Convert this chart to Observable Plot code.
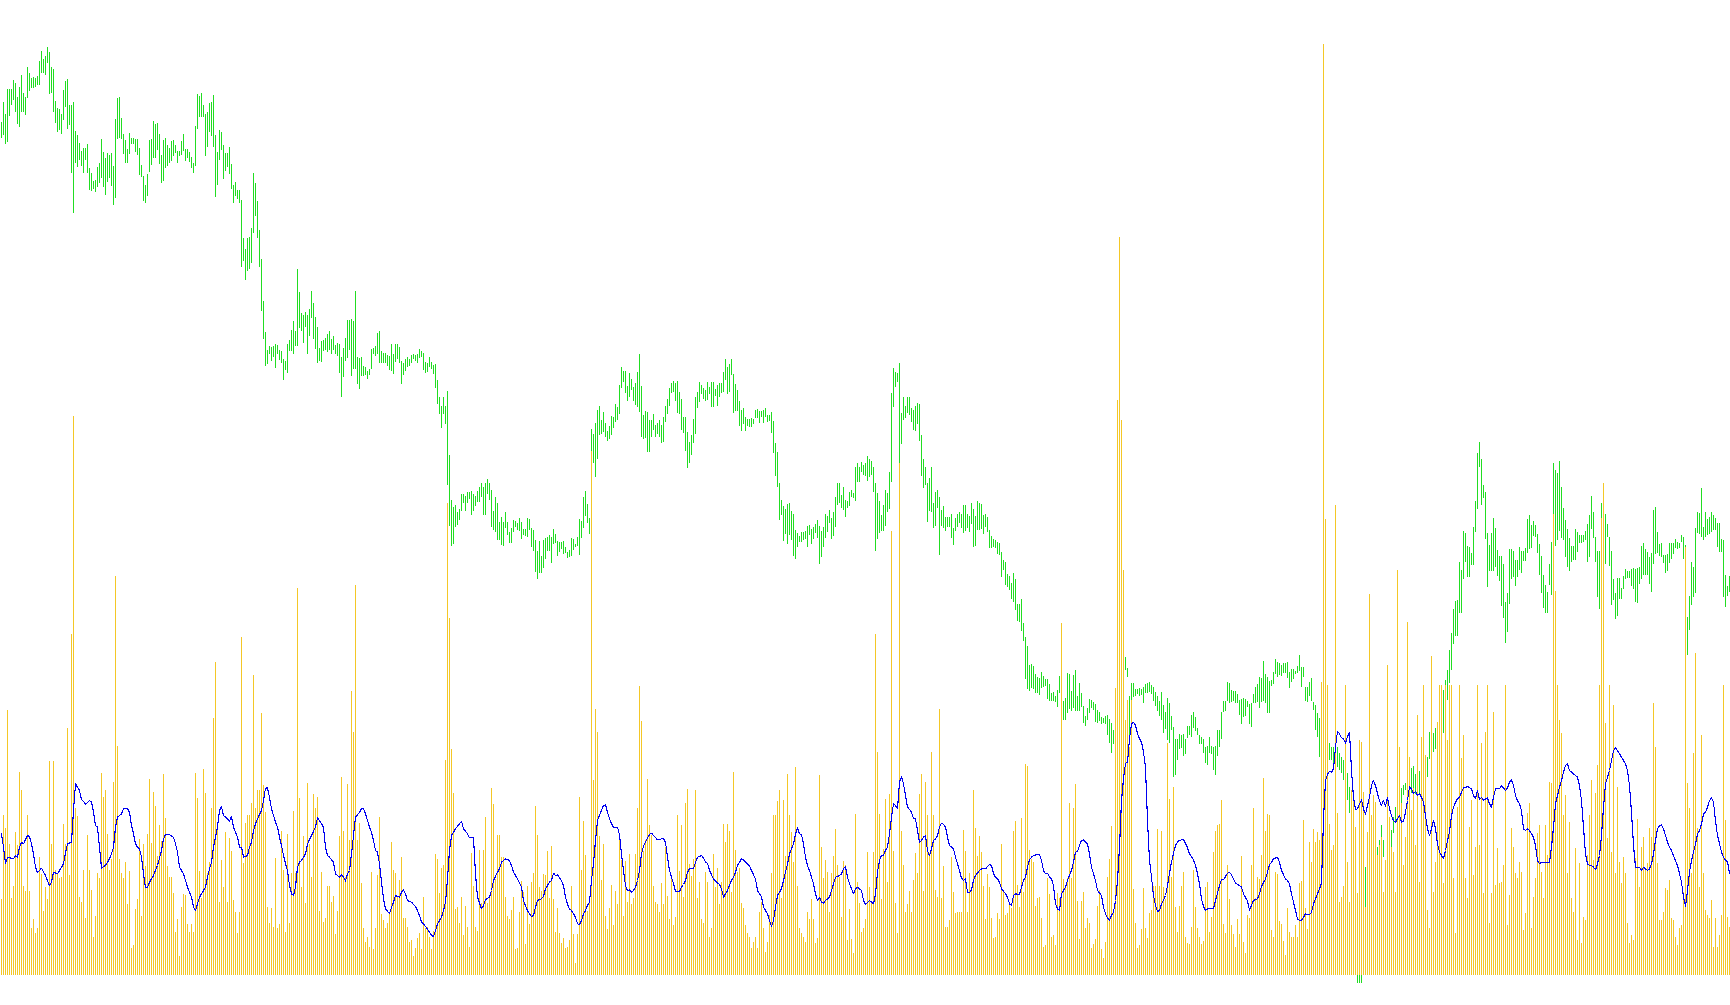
<!DOCTYPE html>
<html>
<head>
<meta charset="utf-8">
<script src="https://cdn.jsdelivr.net/npm/d3@7"></script>
<script src="https://cdn.jsdelivr.net/npm/@observablehq/plot@0.6"></script>
<style>
html,body{margin:0;padding:0;background:#fff;overflow:hidden}
#wrap{position:relative;width:1730px;height:1005px}
#wrap > svg{position:absolute;left:0;top:0}
</style>
</head>
<body>
<div id="wrap"></div>
<script>
// Price bars (high / low), in chart price units
const high = [
/*0*/2635,2695,2658,2733,2733,2733,2760,2752,2710,2740,
/*10*/2775,2722,2710,2800,2782,2767,2770,2765,2772,2817,
/*20*/2847,2823,2832,2860,2843,2800,2793,2698,2675,2673,
/*30*/2658,2730,2758,2763,2685,2685,2695,2608,2595,2572,
/*40*/2547,2555,2555,2568,2496,2480,2458,2460,2500,2510,
/*50*/2583,2544,2527,2540,2535,2540,2502,2643,2705,2708,
/*60*/2645,2598,2580,2553,2600,2587,2585,2583,2583,2557,
/*70*/2505,2472,2445,2478,2580,2583,2637,2628,2630,2598,
/*80*/2535,2580,2585,2565,2556,2577,2580,2565,2546,2546,
/*90*/2577,2598,2553,2553,2544,2529,2510,2622,2718,2713,
/*100*/2722,2685,2658,2665,2690,2695,2715,2595,2545,2610,
/*110*/2604,2564,2542,2540,2560,2508,2445,2454,2430,2430,
/*120*/2400,2287,2253,2287,2290,2316,2482,2452,2397,2310,
/*130*/2223,2097,2004,1950,1962,1958,1962,1968,1965,1950,
/*140*/1947,1923,1918,1968,1980,2010,2037,2007,2193,2124,
/*150*/2061,2056,2064,2056,2073,2127,2091,2049,2019,1956,
/*160*/1977,1980,1985,1998,2007,1983,1992,1965,1972,1968,
/*170*/1929,1956,1986,2040,2040,2043,2037,2127,1929,1926,
/*180*/1929,1902,1898,1887,1894,1953,1956,1962,2001,2007,
/*190*/1947,1942,1940,1935,1932,1968,1938,1968,1968,1959,
/*200*/1917,1911,1923,1929,1923,1935,1938,1935,1938,1953,
/*210*/1947,1941,1914,1911,1929,1914,1905,1908,1860,1809,
/*220*/1782,1809,1782,1827,1635,1500,1480,1485,1465,1472,
/*230*/1518,1518,1512,1525,1525,1528,1518,1512,1528,1538,
/*240*/1552,1540,1552,1562,1552,1530,1467,1508,1490,1435,
/*250*/1450,1435,1465,1435,1405,1415,1440,1438,1432,1447,
/*260*/1434,1413,1413,1446,1443,1416,1410,1380,1348,1377,
/*270*/1332,1380,1386,1389,1395,1390,1413,1398,1377,1374,
/*280*/1375,1377,1358,1344,1350,1386,1383,1368,1389,1443,
/*290*/1437,1509,1527,1488,1446,1713,1698,1731,1770,1782,
/*300*/1740,1764,1731,1708,1722,1752,1748,1788,1779,1845,
/*310*/1899,1887,1887,1842,1881,1863,1839,1851,1884,1938,
/*320*/1842,1755,1767,1764,1740,1740,1758,1725,1731,1740,
/*330*/1725,1749,1782,1803,1836,1851,1857,1851,1857,1824,
/*340*/1803,1749,1749,1704,1674,1695,1743,1809,1824,1854,
/*350*/1845,1836,1830,1855,1839,1855,1855,1833,1845,1851,
/*360*/1851,1884,1923,1900,1908,1923,1878,1848,1830,1797,
/*370*/1770,1777,1749,1744,1743,1746,1743,1770,1773,1767,
/*380*/1768,1770,1776,1755,1755,1764,1737,1671,1644,1551,
/*390*/1500,1482,1473,1488,1491,1467,1458,1410,1401,1392,
/*400*/1404,1404,1407,1422,1425,1413,1420,1428,1440,1422,
/*410*/1407,1420,1458,1453,1470,1447,1465,1510,1552,1552,
/*420*/1515,1540,1500,1498,1525,1530,1522,1598,1612,1600,
/*430*/1615,1605,1610,1632,1624,1617,1600,1552,1520,1498,
/*440*/1455,1485,1530,1522,1585,1820,1895,1885,1882,1912,
/*450*/1760,1810,1782,1808,1810,1777,1770,1783,1790,1787,
/*460*/1695,1622,1598,1552,1565,1598,1490,1525,1530,1510,
/*470*/1470,1483,1450,1450,1450,1458,1417,1447,1458,1465,
/*480*/1458,1485,1485,1458,1452,1490,1473,1453,1498,1492,
/*490*/1488,1455,1458,1450,1410,1393,1383,1380,1375,1372,
/*500*/1345,1320,1315,1278,1272,1252,1282,1263,1188,1188,
/*510*/1203,1130,1090,1062,1005,1008,1002,978,970,965,
/*520*/985,972,962,963,948,922,925,912,930,972,
/*530*/920,898,907,982,978,928,975,990,912,952,
/*540*/922,882,852,875,902,900,894,888,870,865,
/*550*/848,845,852,855,842,832,810,935,900,960,
/*560*/1000,1010,1030,995,912,952,950,932,932,935,
/*570*/932,940,948,950,953,945,938,925,912,897,
/*580*/925,885,865,905,892,852,820,782,782,797,
/*590*/795,797,782,822,822,855,865,848,815,795,
/*600*/790,782,758,762,788,762,760,762,810,810,
/*610*/865,897,897,955,952,930,928,928,917,900,
/*620*/902,905,902,898,888,890,918,940,947,968,
/*630*/965,1017,978,970,957,960,985,1023,1015,1010,
/*640*/1005,1012,1010,1013,984,992,992,987,1002,1035,
/*650*/998,998,940,940,955,965,895,885,862,845,
/*660*/795,800,790,780,770,760,760,770,760,740,
/*670*/730,720,700,680,640,600,560,450,90,90,
/*680*/90,300,400,450,520,532,475,470,460,480,
/*690*/525,480,417,445,465,510,550,580,605,570,
/*700*/635,645,650,630,702,697,702,678,657,687,
/*710*/685,655,655,730,805,812,800,815,810,810,
/*720*/815,930,960,990,1050,1100,1173,1197,1200,1314,
/*730*/1290,1407,1402,1362,1360,1342,1420,1498,1642,1675,
/*740*/1623,1545,1525,1402,1365,1400,1447,1417,1350,1333,
/*750*/1333,1308,1195,1222,1353,1352,1348,1320,1320,1360,
/*760*/1347,1348,1355,1442,1455,1425,1437,1425,1398,1368,
/*770*/1332,1275,1245,1225,1308,1375,1612,1590,1580,1617,
/*780*/1540,1477,1440,1413,1385,1363,1362,1413,1405,1395,
/*790*/1395,1395,1408,1428,1455,1512,1463,1390,1347,1347,
/*800*/1490,1551,1458,1428,1390,1347,1263,1222,1265,1267,
/*810*/1237,1272,1293,1287,1287,1293,1297,1293,1297,1300,
/*820*/1363,1372,1352,1343,1330,1342,1470,1478,1405,1368,
/*830*/1370,1335,1335,1338,1370,1370,1370,1383,1375,1372,
/*840*/1395,1390,1365,1150,1212,1315,1300,1415,1465,1460,
/*850*/1535,1420,1463,1443,1450,1463,1455,1447,1432,1432,
/*860*/1382,1380,1275,1243,1272
];
const low = [
/*0*/2587,2595,2569,2575,2653,2685,2700,2665,2629,2620,
/*10*/2665,2665,2655,2705,2728,2737,2735,2740,2745,2745,
/*20*/2782,2780,2775,2812,2717,2720,2665,2632,2605,2610,
/*30*/2598,2640,2680,2613,2625,2482,2362,2510,2500,2520,
/*40*/2502,2480,2520,2482,2430,2427,2432,2425,2440,2452,
/*50*/2465,2440,2415,2455,2465,2443,2385,2407,2583,2585,
/*60*/2583,2538,2512,2510,2537,2568,2568,2545,2535,2475,
/*70*/2470,2397,2390,2413,2483,2505,2527,2527,2550,2509,
/*80*/2452,2458,2495,2502,2512,2518,2532,2540,2512,2532,
/*90*/2535,2547,2518,2525,2515,2497,2482,2503,2612,2650,
/*100*/2648,2650,2533,2560,2605,2593,2560,2410,2445,2520,
/*110*/2550,2464,2488,2498,2478,2433,2392,2412,2403,2392,
/*120*/2200,2218,2160,2188,2193,2212,2302,2352,2287,2200,
/*130*/2068,1983,1902,1908,1938,1918,1928,1897,1938,1920,
/*140*/1912,1860,1890,1882,1948,1947,1938,1963,1963,2015,
/*150*/2007,1972,2020,1938,1992,2047,1983,1952,1912,1917,
/*160*/1915,1948,1950,1944,1950,1938,1950,1938,1932,1882,
/*170*/1810,1870,1918,1926,1950,1873,1893,1893,1849,1834,
/*180*/1872,1872,1875,1862,1875,1894,1939,1932,1938,1911,
/*190*/1910,1910,1910,1902,1890,1888,1877,1915,1923,1912,
/*200*/1849,1875,1887,1900,1902,1912,1923,1917,1912,1926,
/*210*/1929,1890,1882,1885,1900,1894,1878,1837,1788,1758,
/*220*/1717,1758,1728,1545,1422,1362,1368,1420,1425,1440,
/*230*/1467,1490,1468,1492,1502,1455,1468,1482,1495,1495,
/*240*/1510,1455,1455,1518,1500,1420,1410,1405,1380,1380,
/*250*/1365,1362,1415,1395,1372,1372,1405,1418,1410,1408,
/*260*/1383,1395,1392,1390,1410,1360,1348,1285,1264,1282,
/*270*/1282,1295,1323,1348,1348,1312,1368,1370,1333,1345,
/*280*/1352,1338,1342,1327,1330,1333,1350,1360,1363,1335,
/*290*/1385,1417,1453,1430,1398,1647,1610,1570,1623,1695,
/*300*/1697,1705,1690,1678,1683,1695,1717,1735,1740,1758,
/*310*/1837,1855,1820,1798,1810,1830,1798,1785,1779,1765,
/*320*/1690,1682,1685,1645,1645,1688,1710,1688,1698,1688,
/*330*/1670,1675,1735,1758,1782,1820,1823,1797,1762,1758,
/*340*/1710,1702,1648,1595,1612,1635,1672,1698,1777,1795,
/*350*/1818,1802,1798,1800,1818,1780,1780,1812,1782,1808,
/*360*/1822,1825,1860,1818,1823,1875,1760,1768,1768,1723,
/*370*/1708,1728,1706,1722,1720,1720,1728,1747,1747,1732,
/*380*/1750,1730,1748,1735,1736,1702,1642,1572,1540,1440,
/*390*/1455,1377,1397,1368,1395,1380,1332,1323,1360,1375,
/*400*/1375,1380,1383,1360,1395,1368,1383,1402,1386,1308,
/*410*/1330,1360,1387,1405,1430,1383,1393,1420,1485,1492,
/*420*/1475,1470,1450,1475,1482,1508,1505,1498,1555,1555,
/*430*/1585,1575,1572,1558,1568,1575,1525,1347,1383,1400,
/*440*/1408,1408,1423,1465,1473,1555,1780,1840,1855,1612,
/*450*/1668,1740,1745,1762,1755,1735,1710,1708,1728,1678,
/*460*/1573,1537,1545,1435,1467,1465,1415,1423,1477,1335,
/*470*/1423,1417,1407,1420,1418,1387,1365,1408,1420,1430,
/*480*/1417,1400,1408,1417,1405,1428,1360,1363,1410,1410,
/*490*/1413,1398,1420,1403,1357,1357,1358,1355,1338,1335,
/*500*/1270,1290,1245,1240,1230,1202,1195,1170,1137,1135,
/*510*/1108,1078,962,932,927,935,933,922,922,915,
/*520*/935,940,942,902,898,898,898,893,880,922,
/*530*/880,840,840,862,872,868,875,868,868,868,
/*540*/880,832,822,840,860,877,870,834,832,838,
/*550*/828,830,827,795,770,742,768,815,850,880,
/*560*/930,960,990,968,780,895,910,912,917,912,
/*570*/915,892,920,922,925,917,898,882,867,852,
/*580*/840,802,812,780,772,810,670,675,720,752,
/*590*/755,732,738,785,795,790,815,808,795,768,
/*600*/768,740,712,705,740,738,690,675,732,758,
/*610*/782,865,867,898,890,895,898,890,890,855,
/*620*/827,848,852,878,827,818,890,892,895,877,
/*630*/895,897,890,862,860,942,947,978,968,975,
/*640*/972,980,980,965,935,955,962,977,980,988,
/*650*/938,968,898,895,912,897,870,810,788,730,
/*660*/778,760,740,730,720,720,710,720,700,690,
/*670*/680,660,640,600,560,500,400,200,50,50,
/*680*/50,150,250,330,420,450,430,420,420,440,
/*690*/475,430,370,390,415,460,500,530,555,505,
/*700*/560,615,630,555,635,620,630,618,615,615,
/*710*/618,615,625,670,722,670,745,752,758,708,
/*720*/742,800,888,900,950,990,1068,1092,1092,1160,
/*730*/1162,1263,1313,1270,1270,1305,1305,1405,1472,1600,
/*740*/1485,1505,1382,1240,1288,1288,1287,1300,1273,1257,
/*750*/1183,1147,1072,1105,1187,1264,1270,1243,1268,1290,
/*760*/1282,1318,1318,1340,1352,1355,1392,1390,1340,1275,
/*770*/1222,1177,1162,1162,1245,1215,1400,1362,1380,1407,
/*780*/1385,1380,1330,1300,1288,1315,1320,1320,1345,1370,
/*790*/1372,1375,1380,1315,1330,1412,1387,1315,1210,1173,
/*800*/1400,1420,1308,1390,1303,1185,1200,1143,1152,1203,
/*810*/1203,1232,1262,1265,1265,1243,1232,1195,1190,1247,
/*820*/1262,1275,1275,1275,1248,1223,1308,1337,1340,1333,
/*830*/1330,1310,1282,1288,1312,1323,1337,1355,1353,1355,
/*840*/1375,1322,1200,1035,1110,1185,1210,1222,1400,1398,
/*850*/1388,1380,1388,1395,1398,1405,1410,1410,1358,1345,
/*860*/1345,1210,1180,1213,1225
];
// Volume per bar
const volume = [
/*0*/228,480,442,795,393,232,268,430,390,610,
/*10*/555,268,253,480,253,140,168,125,142,355,
/*20*/303,193,265,228,642,394,642,315,305,292,
/*30*/293,453,393,742,300,1023,1677,502,477,235,
/*40*/220,315,172,420,315,255,115,178,305,292,
/*50*/607,533,555,423,315,349,580,1197,687,348,
/*60*/307,292,340,213,312,82,90,198,228,409,
/*70*/178,393,328,422,588,395,550,507,358,450,
/*80*/403,603,470,328,295,295,245,130,168,58,
/*90*/203,243,240,153,130,153,128,607,532,313,
/*100*/230,618,547,307,340,500,772,939,453,220,
/*110*/345,265,430,220,410,373,225,190,125,188,
/*120*/1014,337,457,480,480,517,900,500,555,555,
/*130*/787,570,490,203,155,200,145,350,142,152,
/*140*/432,315,128,423,157,307,493,307,1161,532,
/*150*/265,418,217,577,393,295,543,500,533,193,
/*160*/310,160,172,268,268,220,238,123,193,418,
/*170*/595,433,295,572,405,852,730,1170,405,457,
/*180*/277,140,100,115,85,308,78,140,300,473,
/*190*/183,165,142,155,185,400,315,307,233,285,
/*200*/355,172,172,143,100,105,58,80,112,127,
/*210*/78,235,142,143,115,77,132,362,348,247,
/*220*/322,330,645,1416,1071,678,547,197,203,155,
/*230*/233,120,208,143,83,365,268,145,132,375,
/*240*/215,375,473,215,232,560,513,287,420,420,
/*250*/355,353,235,178,168,195,233,78,80,190,
/*260*/282,248,93,268,153,280,307,507,420,265,
/*270*/253,302,300,373,230,388,228,130,202,127,
/*280*/97,110,80,85,105,268,123,37,123,533,
/*290*/315,463,360,193,230,1572,585,798,730,418,
/*300*/285,393,177,138,202,270,150,253,213,423,
/*310*/345,177,342,220,363,213,230,363,502,868,
/*320*/762,372,405,588,450,420,268,220,213,188,
/*330*/277,213,383,237,168,292,150,175,480,313,
/*340*/450,235,517,558,333,298,348,555,232,279,
/*350*/168,157,310,280,115,142,363,263,322,213,
/*360*/280,453,400,453,433,248,610,375,310,322,
/*370*/217,202,150,127,113,82,100,115,80,190,
/*380*/220,140,68,98,180,307,480,480,523,555,
/*390*/230,525,357,603,480,430,340,623,267,142,
/*400*/125,115,100,190,168,228,168,95,112,600,
/*410*/385,290,345,310,190,307,358,438,330,295,
/*420*/175,343,330,105,198,108,67,483,278,217,
/*430*/130,140,168,370,265,223,370,1023,670,483,
/*440*/228,377,528,280,543,1332,373,217,127,1536,
/*450*/433,330,190,213,253,190,285,365,307,543,
/*460*/603,253,580,480,365,670,480,255,233,798,
/*470*/230,328,145,143,165,353,250,187,188,188,
/*480*/190,435,373,190,307,265,555,442,357,418,
/*490*/368,268,168,303,265,172,110,115,185,167,
/*500*/392,255,180,187,218,200,432,463,270,203,
/*510*/470,250,633,627,375,348,340,208,230,235,
/*520*/172,83,90,292,243,113,120,90,245,230,
/*530*/1056,287,263,292,517,292,500,572,222,108,
/*540*/222,250,140,172,157,82,92,108,207,255,
/*550*/78,50,98,293,348,448,188,861,1725,2214,
/*560*/1665,1215,765,825,684,825,258,157,80,90,
/*570*/137,260,140,110,185,195,268,268,438,268,
/*580*/432,265,228,695,527,295,565,205,130,207,
/*590*/268,310,115,95,92,145,315,205,142,115,
/*600*/92,103,265,280,130,175,370,432,450,452,
/*610*/525,153,125,330,227,150,123,85,168,123,
/*620*/358,98,67,180,170,330,502,230,293,288,
/*630*/360,590,433,483,480,135,115,310,302,163,
/*640*/152,103,60,200,130,115,115,150,115,275,
/*650*/282,465,200,138,400,340,438,400,428,405,
/*660*/880,2793,1368,870,453,375,390,1410,485,220,
/*670*/235,267,870,340,220,555,555,445,245,705,
/*680*/700,550,205,430,1143,480,540,520,360,390,
/*690*/415,250,345,930,475,385,370,250,1215,685,
/*700*/515,330,415,1059,655,495,560,390,780,280,
/*710*/715,870,660,195,140,957,250,340,760,870,
/*720*/870,275,870,705,870,870,290,125,505,870,
/*730*/650,720,290,230,445,525,300,385,870,390,
/*740*/695,245,730,870,155,245,790,270,380,275,
/*750*/280,330,870,150,240,440,385,305,290,340,
/*760*/310,135,185,485,515,140,235,290,425,450,
/*770*/310,230,450,360,580,575,1383,1152,870,765,
/*780*/725,480,540,305,460,230,190,380,105,335,
/*790*/95,175,165,360,480,585,345,545,630,870,
/*800*/1371,1476,755,410,870,370,810,305,565,340,
/*810*/275,355,305,155,95,120,105,350,467,265,
/*820*/385,415,315,335,440,415,815,685,335,165,
/*830*/165,190,260,255,285,170,165,115,90,140,
/*840*/150,250,1284,575,500,305,665,966,440,265,
/*850*/720,305,195,180,170,225,85,170,85,120,
/*860*/180,870,465,175,145
];
// Moving average of volume: [bar, value]
const maPoints = [
[0,425],[1,385],[2,335],[3,355],[6,350],[7,360],[8,355],[9,385],[10,400],[11,395],[13,420],[14,417],[15,395],[16,365],[17,325],[18,308],[20,322],[22,300],[24,270],[25,280],[26,310],[28,305],[29,315],[31,335],[32,367],[33,395],[35,400],[36,495],[37,575],[39,555],[40,527],[41,523],[42,513],[44,525],[45,520],[46,490],[47,450],[48,445],[49,385],[50,322],[52,330],[54,350],[55,365],[56,385],[57,445],[58,475],[60,485],[61,500],[63,500],[64,490],[65,450],[66,425],[67,395],[68,385],[69,380],[70,355],[71,305],[72,263],[73,265],[74,280],[76,300],[78,330],[80,375],[81,410],[82,423],[84,422],[86,415],[87,395],[88,370],[89,325],[91,305],[92,285],[93,265],[95,235],[96,205],[97,195],[98,215],[99,235],[100,245],[102,265],[103,295],[104,320],[105,340],[106,385],[107,415],[108,445],[109,495],[110,507],[111,480],[113,470],[114,463],[115,477],[116,445],[118,415],[119,385],[120,385],[121,355],[123,360],[124,385],[125,400],[126,435],[127,455],[128,470],[130,495],[131,525],[132,562],[133,563],[134,535],[135,500],[136,480],[137,460],[138,445],[139,415],[140,390],[141,360],[142,335],[143,315],[144,270],[145,245],[146,240],[147,265],[148,325],[149,340],
[150,345],[152,365],[153,395],[155,420],[157,445],[158,473],[159,465],[161,445],[162,385],[163,360],[164,355],[166,340],[167,305],[169,295],[170,302],[171,295],[172,283],[173,305],[174,315],[175,365],[177,475],[179,490],[180,500],[181,500],[182,485],[184,445],[185,430],[186,405],[187,375],[188,370],[189,335],[190,280],[191,230],[192,200],[194,185],[195,205],[196,220],[197,240],[199,235],[200,250],[201,257],[202,245],[203,225],[205,220],[207,207],[208,195],[209,180],[210,160],[211,155],[212,147],[214,130],[215,120],[216,117],[217,135],[218,155],[220,175],[221,195],[222,220],[223,290],[224,375],[225,420],[227,440],[229,455],[230,463],[231,440],[233,425],[234,413],[236,413],[237,305],[238,235],[240,200],[241,210],[242,228],[244,235],[245,255],[246,285],[248,310],[249,320],[250,340],[252,350],[254,345],[255,330],[256,310],[258,290],[260,265],[261,225],[263,195],[265,177],[266,180],[267,205],[268,225],[270,230],[271,237],[272,260],[274,280],
[275,285],[276,307],[277,300],[278,302],[280,285],[281,270],[282,235],[283,213],[284,200],[285,195],[287,175],[288,155],[289,153],[290,165],[291,185],[292,195],[293,210],[294,220],[295,285],[296,337],[297,405],[298,465],[299,480],[300,495],[301,510],[302,512],[303,490],[304,470],[305,455],[306,445],[308,445],[309,422],[310,365],[311,315],[312,270],[313,255],[314,257],[315,250],[316,255],[317,265],[318,285],[319,315],[320,365],[321,388],[323,413],[324,423],[325,427],[326,420],[328,407],[330,410],[331,410],[332,400],[333,355],[334,315],[335,295],[336,275],[337,253],[339,252],[340,265],[341,273],[342,285],[343,310],[344,320],[346,320],[347,340],[348,355],[350,360],[351,352],[352,340],[353,337],[354,315],[356,290],[358,277],[359,273],[360,260],[361,235],[363,255],[365,285],[366,295],[367,310],[368,330],[370,350],[371,347],[373,335],[374,329],[375,315],[377,290],[378,255],[380,237],[381,205],[383,185],[384,165],[385,147],[386,165],[387,205],[388,240],[390,260],[391,285],[392,310],[393,335],[394,365],[396,395],[397,425],[398,443],[399,425],
[400,423],[401,395],[402,355],[403,330],[404,315],[405,295],[406,275],[407,245],[408,225],[409,235],[410,220],[411,217],[412,225],[414,235],[415,255],[416,275],[417,295],[419,300],[420,305],[421,320],[422,327],[423,295],[424,275],[425,260],[426,245],[427,260],[428,265],[430,255],[431,225],[432,213],[434,225],[435,220],[436,215],[437,245],[438,310],[439,345],[440,360],[441,360],[442,375],[443,385],[444,425],[445,475],[446,515],[447,510],[448,500],[449,580],[450,597],[451,575],[452,540],[453,505],[454,498],[455,490],[456,470],[457,470],[458,435],[459,400],[460,405],[461,415],[462,420],[463,375],[464,360],[465,380],[466,405],[467,410],[468,420],[469,445],[470,457],[471,453],[472,445],[473,415],[474,390],[475,385],[476,380],[477,355],[479,315],[480,292],[481,285],[482,290],[483,250],[484,248],[485,257],[486,285],[487,300],[488,307],[489,315],[490,320],[492,320],[494,333],[495,330],[496,305],[497,295],[498,290],[499,280],[500,260],[502,245],[503,235],[504,215],[505,210],[506,240],[507,245],[509,243],[510,265],[511,285],[512,295],[513,325],[514,347],[515,355],[516,360],[518,363],[519,363],[520,345],[521,315],[522,305],[523,307],[524,295],
[525,290],[526,270],[527,215],[528,200],[529,195],[530,245],[531,255],[532,265],[533,285],[535,315],[536,340],[537,370],[538,372],[539,390],[540,405],[541,407],[543,395],[544,365],[545,325],[546,305],[547,285],[548,255],[550,240],[551,205],[552,185],[553,173],[554,165],[555,180],[556,190],[557,225],[558,285],[559,385],[560,525],[561,590],[562,637],[563,640],[564,710],[565,755],[566,760],[567,750],[568,725],[569,710],[570,700],[571,670],[572,625],[573,465],[574,345],[575,295],[576,240],[577,210],[578,192],[579,195],[580,215],[581,227],[582,240],[583,270],[584,307],[585,340],[586,367],[587,390],[588,401],[589,405],[590,407],[591,407],[592,397],[593,383],[594,365],[596,347],[597,330],[598,305],[599,275],[600,230],[601,207],[602,195],[603,200],[606,200],[607,225],[608,247],[609,270],[610,288],[611,287],[612,297],[613,307],[614,310],[615,302],[616,290],[617,277],[619,270],[620,265],[621,245],[623,223],[624,195],[625,210],[626,225],[628,230],[629,245],[630,267],[632,290],[633,310],[634,332],[635,340],[636,350],[638,355],[639,340],[640,315],[642,290],[643,285],[644,275],[645,245],[646,220],[648,170],[649,165],
[650,165],[652,185],[654,182],[655,190],[656,215],[657,230],[658,245],[659,260],[660,277],[661,470],[662,585],[663,603],[664,613],[665,610],[666,620],[667,685],[668,733],[669,725],[670,713],[671,710],[672,697],[673,717],[674,730],[675,615],[676,535],[677,497],[678,500],[679,515],[680,527],[681,500],[682,483],[683,510],[684,535],[685,570],[686,585],[687,570],[688,545],[689,525],[690,510],[691,525],[692,507],[693,535],[694,500],[695,480],[696,465],[697,460],[698,470],[699,480],[700,460],[701,463],[702,490],[703,525],[704,567],[705,560],[706,545],[707,553],[708,540],[709,545],[710,535],[711,520],[712,480],[713,440],[714,420],[715,440],[716,465],[717,440],[718,395],[719,370],[720,360],[721,350],[722,375],[723,405],[724,430],[725,480],[726,505],[727,520],[728,530],[729,535],[730,550],[731,563],[732,563],[733,567],[735,560],[736,540],[737,530],[738,555],[739,527],[740,535],[741,525],[742,530],[743,533],[744,515],[745,505],[746,535],[747,560],[748,562],[749,560],[750,570],[751,563],[752,555],[753,563],[754,580],[755,587],[756,570],[757,540],[758,525],[759,515],[760,495],[761,440],[762,435],[763,440],[764,435],[765,425],[766,415],[767,390],[768,345],[769,335],[770,340],[774,340],[775,385],[776,445],[777,515],[778,540],[779,565],[780,585],[781,610],[782,630],[783,635],[784,615],[785,610],[786,605],[787,600],[788,595],[789,570],[790,525],[791,445],[792,365],[793,335],[794,330],[795,330],[796,325],[797,317],[798,335],[799,360],[800,420],[801,505],[802,575],[803,595],[804,615],[805,645],[806,675],[807,683],[808,675],[809,665],[810,655],[811,645],[812,635],[813,615],[814,570],[815,490],[816,390],[817,325],[819,325],[820,315],[821,325],[822,320],[823,315],[824,320],[825,335],[826,365],[827,405],[828,440],[829,450],[830,452],[831,440],[832,420],[833,400],[834,385],[835,375],[836,360],[837,345],[838,330],[839,305],[840,280],[841,235],[842,207],[843,255],[844,310],[845,345],[846,370],[847,395],[848,425],[849,435],[850,455],[851,485],[852,490],[853,505],[854,525],[855,533],[856,520],[857,465],[858,420],[859,395],[860,370],[861,355],[862,345],[863,342],[864,305]
];

const N = high.length;
const bars = d3.range(N).map(i => ({bar: i, high: high[i], low: low[i], volume: volume[i]}));
const ma = maPoints.map(([bar, value]) => ({bar, value}));

const W = 1730, H = 1005;
const xOpts = {domain: [-0.5, N - 0.5], range: [0, W], axis: null};

const priceChart = Plot.plot({
  width: W, height: H,
  marginTop: 0, marginRight: 0, marginLeft: 0, marginBottom: 5,
  x: xOpts,
  y: {domain: [0, 3000], axis: null},
  style: {background: "#ffffff"},
  marks: [
    Plot.ruleX(bars, {x: "bar", y1: "low", y2: "high", stroke: "#22dd22", strokeWidth: 1, shapeRendering: "crispEdges"})
  ]
});

const volumeChart = Plot.plot({
  width: W, height: H,
  marginTop: 0, marginRight: 0, marginLeft: 0, marginBottom: 30,
  x: xOpts,
  y: {domain: [0, 2925], axis: null},
  style: {background: "none"},
  marks: [
    Plot.ruleX(bars, {x: "bar", y1: 0, y2: "volume", stroke: "#f4c727", strokeWidth: 1, shapeRendering: "crispEdges"}),
    Plot.line(ma, {x: "bar", y: "value", stroke: "#0000f0", strokeWidth: 1.1, shapeRendering: "crispEdges"})
  ]
});

const wrap = document.getElementById("wrap");
wrap.appendChild(priceChart);
wrap.appendChild(volumeChart);
</script>
</body>
</html>
